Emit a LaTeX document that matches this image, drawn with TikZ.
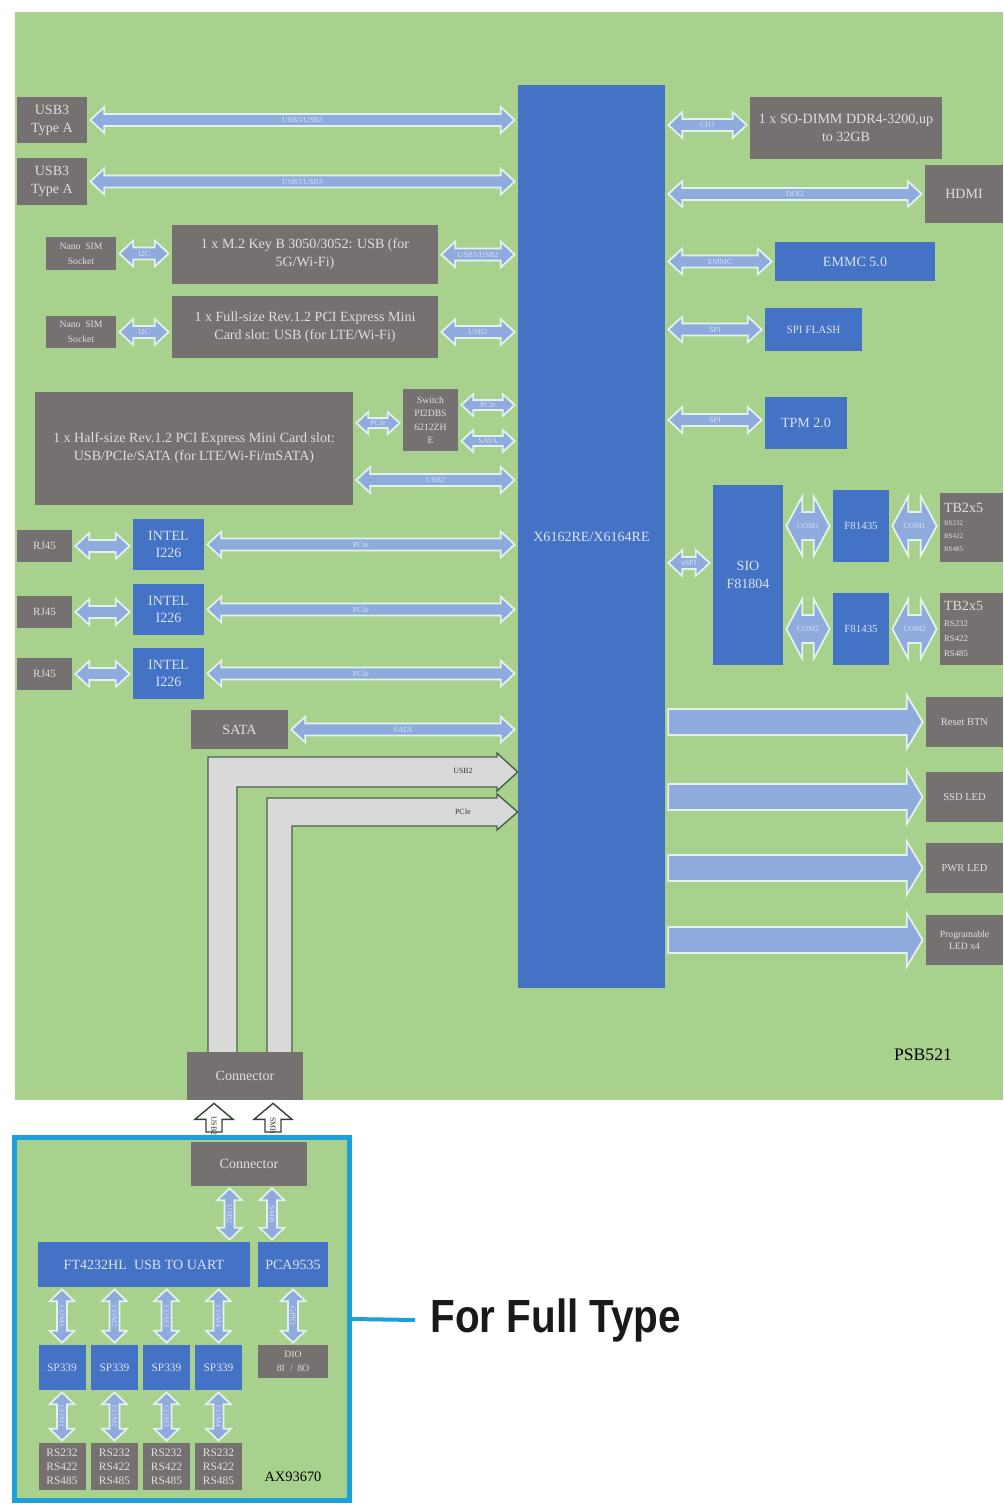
\documentclass[tikz,border=0pt]{standalone}
\usepackage{fontspec}
\usepackage{graphicx}
\setmainfont{Liberation Serif}
\newfontfamily\calloutfont{Liberation Sans}
\usetikzlibrary{calc,positioning}

\definecolor{boardgreen}{RGB}{169,209,142}
\definecolor{boxgray}{RGB}{118,113,113}
\definecolor{boxtext}{RGB}{222,222,222}
\definecolor{chipblue}{RGB}{68,114,196}
\definecolor{chiptext}{RGB}{218,227,243}
\definecolor{busblue}{RGB}{143,170,220}
\definecolor{busedge}{RGB}{226,242,236}
\definecolor{framecyan}{RGB}{28,160,220}
\definecolor{lfill}{RGB}{217,217,217}
\definecolor{ledge}{RGB}{74,96,74}

\newcommand\pxu{0.02cm}
\newcommand\bgap{3}

\tikzset{
  sz/.style 2 args={minimum width=#1*\pxu, minimum height=#2*\pxu},
  gbox/.style={fill=boxgray, text=boxtext, inner sep=0pt, align=center,
    font=\fontsize{8}{10.2}\selectfont},
  cbox/.style={fill=chipblue, text=chiptext, inner sep=0pt, align=center,
    font=\fontsize{8}{10.2}\selectfont},
  bussize/.code args={#1/#2/#3}{\def\bsw{#1}\def\bhw{#2}\def\bhl{#3}},
  bus/.style={bussize=6/13/14},
  busfill/.style={fill=busblue, draw=busedge, line width=1pt},
  buslbl/.style={text=white!65!busblue, inner sep=0pt,
    font=\fontsize{4.5}{5}\selectfont},
  lbus/.style={fill=lfill, draw=ledge, line width=0.8pt},
  upfill/.style={fill=white, draw=ledge!70!black, line width=0.8pt},
  uplbl/.style={text=ledge!60!black, inner sep=0pt, font=\fontsize{4.5}{5}\selectfont},
}

% horizontal two-way bus
\newcommand\hbus[4][]{%
  \begin{scope}[bus,#1]
    \coordinate (bA) at ($(#2)+(\bgap,0)$);
    \coordinate (bB) at ($(#3)+(-\bgap,0)$);
    \draw[busfill] (bA) -- ++(\bhl,\bhw) -- ++(0,\bsw-\bhw) -- ($(bB)+(-\bhl,\bsw)$)
      -- ++(0,\bhw-\bsw) -- (bB) -- ++(-\bhl,-\bhw) -- ++(0,\bhw-\bsw)
      -- ($(bA)+(\bhl,-\bsw)$) -- ++(0,\bsw-\bhw) -- cycle;
    \path (bA) -- node[buslbl] {#4} (bB);
  \end{scope}}
% vertical two-way bus
\newcommand\vbus[4][]{%
  \begin{scope}[bus,bussize=5/12.5/12,#1]
    \coordinate (bA) at ($(#2)+(0,2)$);
    \coordinate (bB) at ($(#3)+(0,-2)$);
    \draw[busfill] (bA) -- ++(\bhw,\bhl) -- ++(\bsw-\bhw,0) -- ($(bB)+(\bsw,-\bhl)$)
      -- ++(\bhw-\bsw,0) -- (bB) -- ++(-\bhw,-\bhl) -- ++(\bhw-\bsw,0)
      -- ($(bA)+(-\bsw,\bhl)$) -- ++(\bsw-\bhw,0) -- cycle;
    \path (bA) -- node[buslbl, rotate=-90] {#4} (bB);
  \end{scope}}
% one-way bus to the right
\newcommand\hsgl[3][]{%
  \begin{scope}[bus,bussize=13/27/16,#1]
    \coordinate (bA) at ($(#2)+(\bgap,0)$);
    \coordinate (bB) at ($(#3)+(-\bgap,0)$);
    \draw[busfill] ($(bA)+(0,-\bsw)$) -- ($(bB)+(-\bhl,-\bsw)$) -- ++(0,\bsw-\bhw)
      -- (bB) -- ++(-\bhl,\bhw) -- ++(0,\bsw-\bhw) -- ($(bA)+(0,\bsw)$) -- cycle;
  \end{scope}}
% one-way bus upwards
\newcommand\ubus[4][]{%
  \begin{scope}[bus,bussize=8/19/16,#1]
    \coordinate (bA) at ($(#2)+(0,-\bgap)$);
    \coordinate (bB) at ($(#3)+(0,\bgap)$);
    \draw[upfill] ($(bA)+(-\bsw,0)$) -- ($(bB)+(-\bsw,\bhl)$) -- ++(\bsw-\bhw,0)
      -- (bB) -- ++(\bhw,\bhl) -- ++(\bsw-\bhw,0) -- ($(bA)+(\bsw,0)$) -- cycle;
    \path (bA) -- node[uplbl, rotate=-90] {#4} ($(bB)+(0,\bhl)$);
  \end{scope}}

\begin{document}
\begin{tikzpicture}[x=0.02cm, y=-0.02cm]
\useasboundingbox (0,0) rectangle (1003,1506);
\fill[white] (0,0) rectangle (1003,1506);
% carrier board
\fill[boardgreen] (15,12) rectangle (1003,1100);

\node[cbox, sz={147}{903}] (soc) at (591.5,536.5) {X6162RE/X6164RE};

% left side
\node[gbox, sz={70}{46}] (usbA1) at (52,120) {USB3\\Type A};
\node[gbox, sz={70}{47}] (usbA2) at (52,181.5) {USB3\\Type A};
\hbus{usbA1.east}{soc.west|-usbA1.east}{USB3/USB3}
\hbus{usbA2.east}{soc.west|-usbA2.east}{USB3/USB3}

\node[gbox, sz={70}{33}, font=\fontsize{5.5}{8.5}\selectfont] (sim1) at (81,253.5) {Nano~~SIM\\Socket};
\node[gbox, sz={266}{59}] (mtwo) at (305,254.5) {1 x M.2 Key B 3050/3052: USB (for\\5G/Wi-Fi)};
\hbus{sim1.east}{sim1.east-|mtwo.west}{I2C}
\hbus{mtwo.east}{soc.west|-mtwo.east}{USB3/USB2}

\node[gbox, sz={70}{32}, font=\fontsize{5.5}{8.5}\selectfont] (sim2) at (81,332) {Nano~~SIM\\Socket};
\node[gbox, sz={266}{62}] (minifull) at (305,327) {1 x Full-size Rev.1.2 PCI Express Mini\\Card slot: USB (for LTE/Wi-Fi)};
\hbus{sim2.east}{sim2.east-|minifull.west}{I2C}
\hbus{minifull.east|-sim2.east}{soc.west|-sim2.east}{USB2}

\node[gbox, sz={318}{113}] (minihalf) at (194,448.5) {1 x Half-size Rev.1.2 PCI Express Mini Card slot:\\USB/PCIe/SATA (for LTE/Wi-Fi/mSATA)};
\node[gbox, sz={55}{62}, font=\fontsize{5.5}{7.6}\selectfont] (pswitch) at (430.5,420) {Switch\\PI2DBS\\6212ZH\\E};
\hbus[bussize=5/11/12]{minihalf.east|-0,423}{pswitch.west|-0,423}{PCIe}
\hbus[bussize=5/11/12]{pswitch.east|-0,405}{soc.west|-0,405}{PCIe}
\hbus[bussize=5/11/12]{pswitch.east|-0,441}{soc.west|-0,441}{SATA}
\hbus{minihalf.east|-0,480}{soc.west|-0,480}{USB2}

\foreach \i/\y/\z in {1/546/544.5, 2/612/609.5, 3/674/673.5}{
  \node[gbox, sz={55}{32}, font=\fontsize{6.3}{8}\selectfont] (rj\i) at (44.5,\y) {RJ45};
  \node[cbox, sz={71}{51}] (nic\i) at (168.5,\z) {INTEL\\I226};
  \hbus{rj\i.east}{rj\i.east-|nic\i.west}{}
  \hbus{nic\i.east}{soc.west|-nic\i.east}{PCIe}
}

\node[gbox, sz={97}{39}] (sata) at (239.5,729.5) {SATA};
\hbus{sata.east}{soc.west|-sata.east}{SATA}

% buses from the expansion connector
\draw[lbus] (208,1052) -- (208,757) -- (497,757) -- (497,753) -- (soc.west|-0,772)
  -- (497,791) -- (497,787) -- (237,787) -- (237,1052);
\draw[lbus] (267,1052) -- (267,798) -- (497,798) -- (497,794) -- (soc.west|-0,812)
  -- (497,830) -- (497,826) -- (292,826) -- (292,1052);
\node[uplbl, rotate=0] at (463,771) {USB2};
\node[uplbl, rotate=0] at (463,812) {PCIe};
\node[gbox, sz={116}{48}] (conn) at (245,1076) {Connector};

% right side
\node[gbox, sz={192}{62}] (dimm) at (846,128) {1 x SO-DIMM DDR4-3200,up\\to 32GB};
\node[gbox, sz={78}{58}] (hdmi) at (964,194) {HDMI};
\node[cbox, sz={160}{39}] (emmc) at (855,261.5) {EMMC 5.0};
\node[cbox, sz={97}{43}, font=\fontsize{6.3}{8}\selectfont] (flash) at (813.5,329.5) {SPI FLASH};
\node[cbox, sz={82}{52}] (tpm) at (806,423) {TPM 2.0};
\hbus{soc.east|-0,125}{dimm.west|-0,125}{CH1}
\hbus{soc.east|-hdmi.west}{hdmi.west}{DDI2}
\hbus{soc.east|-emmc.west}{emmc.west}{EMMC}
\hbus{soc.east|-flash.west}{flash.west}{SPI}
\hbus{soc.east|-0,420}{tpm.west|-0,420}{SPI}

\node[cbox, sz={70}{180}] (sio) at (748,575) {SIO\\F81804};
\node[cbox, sz={56}{72}, font=\fontsize{6.2}{8}\selectfont] (uart1) at (861,526) {F81435};
\node[cbox, sz={56}{72}, font=\fontsize{6.2}{8}\selectfont] (uart2) at (861,629) {F81435};
\node[gbox, sz={63}{69}, align=left, text width=55*\pxu, font=\fontsize{4}{7.4}\selectfont] (tb1) at (971.5,527.5)
  {{\fontsize{8}{8}\selectfont TB2x5}\\RS232\\RS422\\RS485};
\node[gbox, sz={63}{72}, align=left, text width=55*\pxu, font=\fontsize{5}{8.6}\selectfont] (tb2) at (971.5,629)
  {{\fontsize{8}{8}\selectfont TB2x5}\\RS232\\RS422\\RS485};
\hbus{soc.east|-0,563}{sio.west|-0,563}{eSPI}
\hbus[bussize=14/30/16]{sio.east|-uart1.west}{uart1.west}{COM1}
\hbus[bussize=14/30/16]{uart1.east}{uart1.east-|tb1.west}{COM1}
\hbus[bussize=14/30/16]{sio.east|-uart2.west}{uart2.west}{COM2}
\hbus[bussize=14/30/16]{uart2.east}{uart2.east-|tb2.west}{COM2}

\node[gbox, sz={77}{50}, font=\fontsize{6}{7}\selectfont] (rst) at (964.5,722) {Reset BTN};
\node[gbox, sz={77}{50}, font=\fontsize{6}{7}\selectfont] (ssd) at (964.5,797) {SSD LED};
\node[gbox, sz={77}{50}, font=\fontsize{6}{7}\selectfont] (pwr) at (964.5,868) {PWR LED};
\node[gbox, sz={77}{50}, font=\fontsize{5.5}{6.8}\selectfont] (prog) at (964.5,940) {Programable\\LED x4};
\hsgl{soc.east|-rst.west}{rst.west}
\hsgl{soc.east|-ssd.west}{ssd.west}
\hsgl{soc.east|-pwr.west}{pwr.west}
\hsgl{soc.east|-prog.west}{prog.west}

\node[font=\fontsize{10}{12}\selectfont] (psb) at (923,1055) {PSB521};

% AX93670 module
\node[draw=framecyan, line width=5*\pxu, fill=boardgreen, inner sep=0pt, sz={335}{363}] (axframe) at (182,1319) {};
\node[gbox, sz={116}{44}] (axconn) at (249,1164) {Connector};
\ubus{214,0|-axframe.north}{214,0|-conn.south}{USB2}
\ubus{273,0|-axframe.north}{273,0|-conn.south}{SMB}

\node[cbox, sz={212}{45}] (ftdi) at (144,1264.5) {FT4232HL\ \ USB TO UART};
\node[cbox, sz={70}{45}] (pca) at (293,1264.5) {PCA9535};
\vbus{229.5,0|-axconn.south}{229.5,0|-ftdi.north}{USB2}
\vbus{272,0|-axconn.south}{272,0|-pca.north}{SMB}

\foreach \i/\x in {1/62, 2/114.5, 3/166.5, 4/218.5}{
  \node[cbox, sz={47}{45}, font=\fontsize{6.5}{8}\selectfont] (sp\i) at (\x,1367.5) {SP339};
  \node[gbox, sz={47}{47}, font=\fontsize{6.5}{8}\selectfont] (rs\i) at (\x,1466.5) {RS232\\RS422\\RS485};
  \vbus{sp\i.north|-ftdi.south}{sp\i.north}{COM\i}
  \vbus{sp\i.south}{rs\i.north}{COM\i}
}
\node[gbox, sz={70}{33}, font=\fontsize{5.5}{8}\selectfont] (dio) at (293,1361.5) {DIO\\8I~~/~~8O};
\vbus{dio.north|-pca.south}{dio.north}{GPIO}
\node[font=\fontsize{8.2}{10}\selectfont] (axname) at (293,1477) {AX93670};

\node[anchor=west, inner sep=0pt, text=black!90,
  font=\calloutfont\bfseries\fontsize{23}{26}\selectfont] (fulltype) at (430,1320)
  {\scalebox{1}[1.15]{For Full Type}};
\draw[framecyan, line width=4*\pxu] (axframe.east) -- ([xshift=-0.3cm]fulltype.west);
\end{tikzpicture}
\end{document}
